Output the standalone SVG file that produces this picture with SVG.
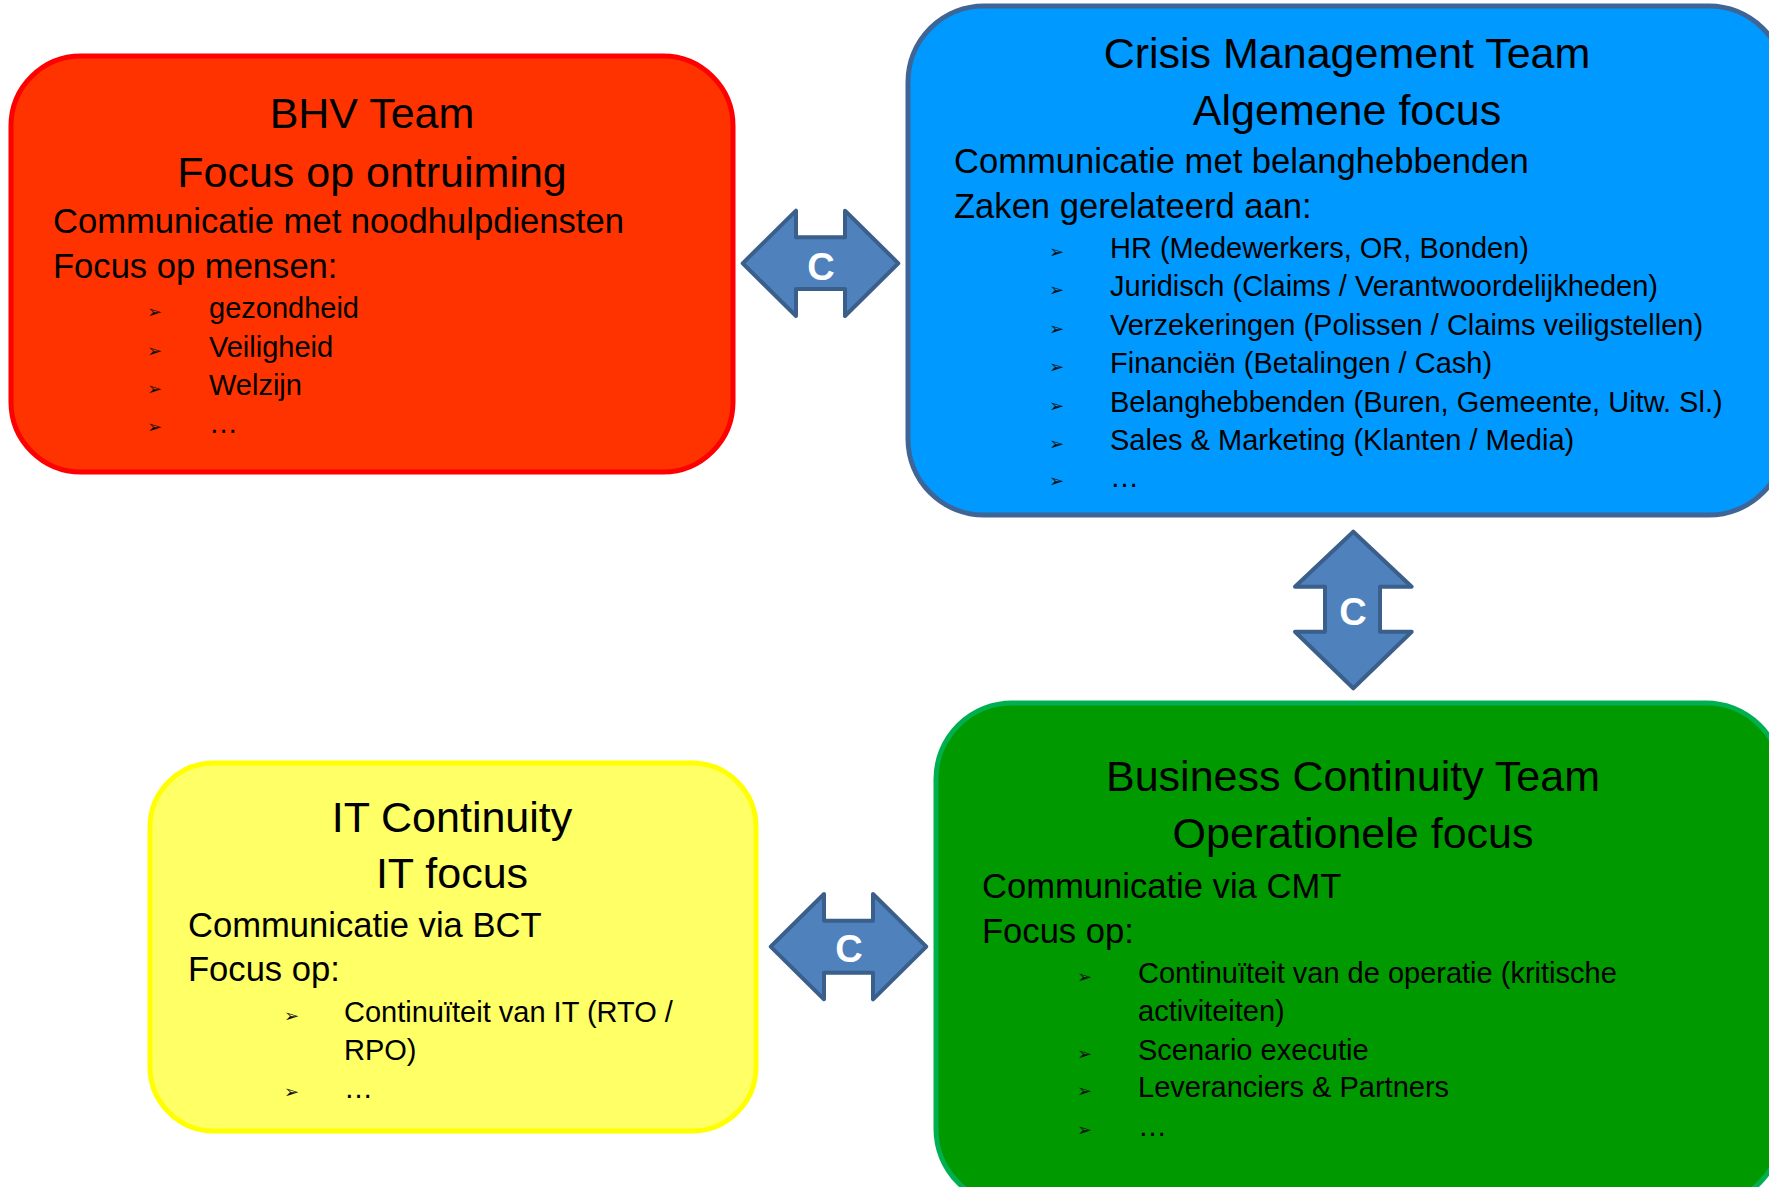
<svg xmlns="http://www.w3.org/2000/svg" width="1769" height="1187" viewBox="0 0 1769 1187">
<style>
.t{font-family:"Liberation Sans",Arial,sans-serif;fill:#000}
.h{font-size:43px;text-anchor:middle}
.b{font-size:34.6px}
.i{font-size:29px}
.bu{font-family:"DejaVu Sans",sans-serif;font-size:18px;fill:#111}
.arr{fill:#4F81BD;stroke:#3A5F8B;stroke-width:4;stroke-linejoin:round}
.c{font-family:"Liberation Sans",Arial,sans-serif;font-weight:bold;font-size:38px;fill:#fff;text-anchor:middle}
</style>
<rect width="1769" height="1187" fill="#fff"/>
<g id="bhv">
<rect x="11" y="56" width="722" height="416" rx="70" fill="#FF3300" stroke="#FF0000" stroke-width="5"/>
<text class="t h" x="372" y="128">BHV Team</text>
<text class="t h" x="372" y="187">Focus op ontruiming</text>
<text class="t b" x="53" y="233">Communicatie met noodhulpdiensten</text>
<text class="t b" x="53" y="278">Focus op mensen:</text>
<text class="bu" x="147" y="318">➢</text><text class="t i" x="209" y="318">gezondheid</text>
<text class="bu" x="147" y="357">➢</text><text class="t i" x="209" y="357">Veiligheid</text>
<text class="bu" x="147" y="395">➢</text><text class="t i" x="209" y="395">Welzijn</text>
<text class="bu" x="147" y="433">➢</text><text class="t i" x="209" y="433">…</text>
</g>
<g id="cmt">
<rect x="908" y="6" width="877" height="509" rx="76" fill="#0099FF" stroke="#3F6596" stroke-width="5"/>
<text class="t h" x="1347" y="68">Crisis Management Team</text>
<text class="t h" x="1347" y="125">Algemene focus</text>
<text class="t b" x="954" y="173">Communicatie met belanghebbenden</text>
<text class="t b" x="954" y="218">Zaken gerelateerd aan:</text>
<text class="bu" x="1049" y="258">➢</text><text class="t i" x="1110" y="258">HR (Medewerkers, OR, Bonden)</text>
<text class="bu" x="1049" y="296">➢</text><text class="t i" x="1110" y="296">Juridisch (Claims / Verantwoordelijkheden)</text>
<text class="bu" x="1049" y="335">➢</text><text class="t i" x="1110" y="335">Verzekeringen (Polissen / Claims veiligstellen)</text>
<text class="bu" x="1049" y="373">➢</text><text class="t i" x="1110" y="373">Financiën (Betalingen / Cash)</text>
<text class="bu" x="1049" y="412">➢</text><text class="t i" x="1110" y="412">Belanghebbenden (Buren, Gemeente, Uitw. Sl.)</text>
<text class="bu" x="1049" y="450">➢</text><text class="t i" x="1110" y="450">Sales &amp; Marketing (Klanten / Media)</text>
<text class="bu" x="1049" y="487">➢</text><text class="t i" x="1110" y="487">…</text>
</g>
<g id="bct">
<rect x="936" y="703" width="846" height="502" rx="76" fill="#009900" stroke="#00B050" stroke-width="5"/>
<text class="t h" x="1353" y="791">Business Continuity Team</text>
<text class="t h" x="1353" y="848">Operationele focus</text>
<text class="t b" x="982" y="898">Communicatie via CMT</text>
<text class="t b" x="982" y="943">Focus op:</text>
<text class="bu" x="1077" y="983">➢</text><text class="t i" x="1138" y="983">Continuïteit van de operatie (kritische</text>
<text class="t i" x="1138" y="1021">activiteiten)</text>
<text class="bu" x="1077" y="1060">➢</text><text class="t i" x="1138" y="1060">Scenario executie</text>
<text class="bu" x="1077" y="1097">➢</text><text class="t i" x="1138" y="1097">Leveranciers &amp; Partners</text>
<text class="bu" x="1077" y="1136">➢</text><text class="t i" x="1138" y="1136">…</text>
</g>
<g id="itc">
<rect x="150" y="763" width="606" height="368" rx="64" fill="#FFFF66" stroke="#FFFF00" stroke-width="5"/>
<text class="t h" x="452" y="832">IT Continuity</text>
<text class="t h" x="452" y="888">IT focus</text>
<text class="t b" x="188" y="937">Communicatie via BCT</text>
<text class="t b" x="188" y="981">Focus op:</text>
<text class="bu" x="284" y="1022">➢</text><text class="t i" x="344" y="1022">Continuïteit van IT (RTO /</text>
<text class="t i" x="344" y="1060">RPO)</text>
<text class="bu" x="284" y="1098">➢</text><text class="t i" x="344" y="1098">…</text>
</g>
<g id="connectors">
<g id="c-bhv-cmt">
<polygon class="arr" points="742.7,263.3 796,210.7 796,237.3 845,237.3 845,210.7 898.3,263.3 845,316 845,289 796,289 796,316"/>
<text class="c" x="821" y="280">C</text>
</g>
<g id="c-cmt-bct">
<polygon class="arr" points="1353.3,531.7 1411.7,586.7 1380,586.7 1380,631.7 1411.7,631.7 1353.3,688.3 1295,631.7 1325,631.7 1325,586.7 1295,586.7"/>
<text class="c" x="1353" y="625">C</text>
</g>
<g id="c-itc-bct">
<polygon class="arr" points="770.7,946.7 824,894 824,920.7 873,920.7 873,894 926.3,946.7 873,999.3 873,972.7 824,972.7 824,999.3"/>
<text class="c" x="849" y="962">C</text>
</g>
</g>
</svg>
